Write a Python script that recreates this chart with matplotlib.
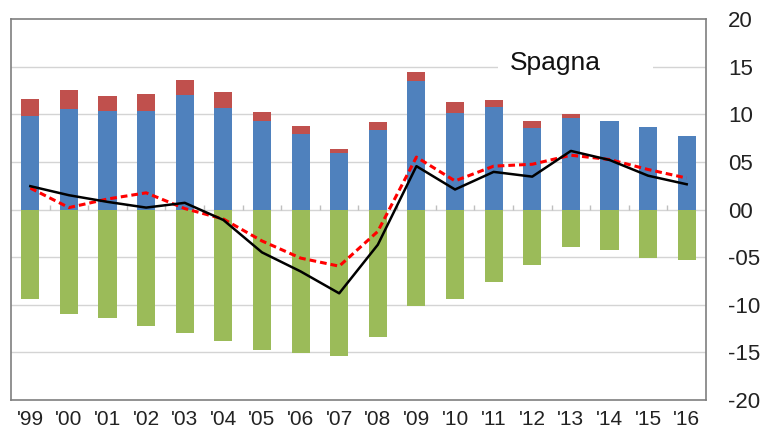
import numpy as np
import matplotlib
matplotlib.use('Agg')
import matplotlib.pyplot as plt
from matplotlib.patches import Rectangle

plt.rcParams['font.family'] = ['Liberation Sans', 'DejaVu Sans']

years = ["'99", "'00", "'01", "'02", "'03", "'04", "'05", "'06", "'07",
         "'08", "'09", "'10", "'11", "'12", "'13", "'14", "'15", "'16"]

# positive component (blue) and the red cap on top of it
blue = [9.85, 10.55, 10.35, 10.35, 12.0, 10.7, 9.3, 7.9, 5.95,
        8.35, 13.45, 10.1, 10.75, 8.6, 9.65, 9.25, 8.65, 7.7]
red = [1.75, 1.95, 1.6, 1.8, 1.6, 1.6, 0.9, 0.85, 0.4,
       0.8, 0.95, 1.15, 0.75, 0.7, 0.4, 0.0, 0.0, 0.0]
# negative component (green)
green = [-9.35, -11.0, -11.35, -12.2, -12.95, -13.8, -14.7, -15.1, -15.35,
         -13.4, -10.1, -9.35, -7.6, -5.85, -3.95, -4.2, -5.1, -5.35]
# lines
black_line = [2.45, 1.5, 0.8, 0.2, 0.7, -1.1, -4.5, -6.5, -8.8,
              -3.7, 4.55, 2.1, 3.95, 3.45, 6.15, 5.2, 3.55, 2.65]
red_line = [2.25, 0.2, 1.1, 1.75, 0.1, -1.0, -3.3, -5.1, -5.95,
            -2.3, 5.5, 3.0, 4.55, 4.75, 5.7, 5.25, 4.2, 3.3]

yticks = [20, 15, 10, 5, 0, -5, -10, -15, -20]
ytick_labels = ['20', '15', '10', '05', '00', '-05', '-10', '-15', '-20']

fig = plt.figure(figsize=(7.74, 4.37), dpi=100)
ax = fig.add_axes([11 / 774, 1 - 400 / 437, 695 / 774, 381 / 437])

x = np.arange(len(years))
w = 0.47
ax.bar(x, blue, w, color='#4F81BD', zorder=2)
ax.bar(x, red, w, bottom=blue, color='#C0504D', zorder=2)
ax.bar(x, green, w, color='#9BBB59', zorder=2)

ax.plot(x, black_line, color='black', lw=1.8, zorder=4)
ax.plot(x, red_line, color='#FF0000', lw=2.2, ls=(0, (2.2, 1.3)), zorder=3)

# gridlines
for v in yticks[1:-1]:
    ax.axhline(v, color='#D4D4D4', lw=1.0, zorder=1)

# small category ticks on the zero line
ax.vlines(x[:-1] + 0.5, 0, 0.45, color='#BFBFBF', lw=1.0, zorder=1)

ax.set_xlim(-0.5, len(years) - 0.5)
ax.set_ylim(-20, 20)

ax.set_xticks(x)
ax.set_xticklabels(years, fontsize=15, color='#222222')
ax.tick_params(axis='x', length=0, pad=7)

ax.yaxis.tick_right()
ax.set_yticks(yticks)
ax.set_yticklabels(ytick_labels, fontsize=16, color='#222222')
ax.tick_params(axis='y', length=0, pad=16)

for s in ax.spines.values():
    s.set_color('#7F7F7F')
    s.set_linewidth(1.2)

# title box (white, breaks the gridline)
ax.add_patch(Rectangle((0.7007, 0.845), 0.223, 0.07, transform=ax.transAxes,
                       facecolor='white', edgecolor='none', zorder=4))
ax.text(0.718, 0.885, 'Spagna', transform=ax.transAxes, fontsize=19,
        ha='left', va='center', color='#111111', zorder=5)

fig.savefig('out.png', dpi=100)
